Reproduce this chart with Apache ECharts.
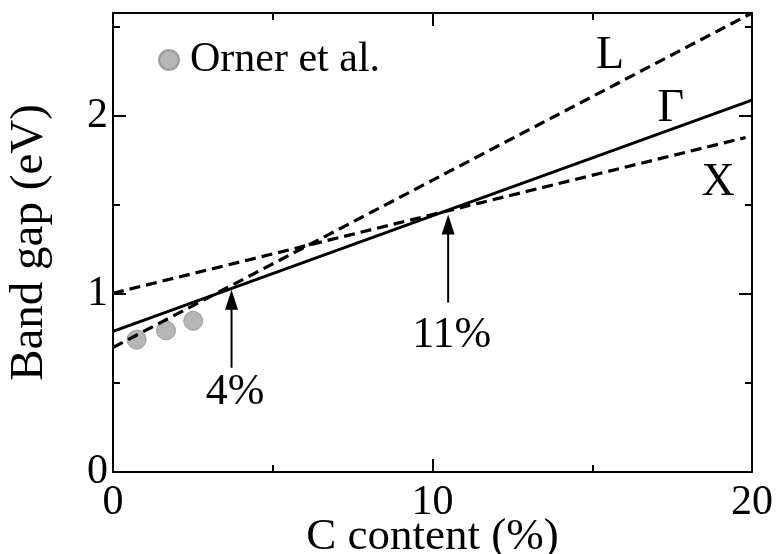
<!DOCTYPE html>
<html>
<head>
<meta charset="utf-8">
<script src="https://cdn.jsdelivr.net/npm/echarts@6/dist/echarts.min.js"></script>
<style>html,body{margin:0;padding:0;background:#fff}#c{width:776px;height:554px}</style>
</head>
<body>
<div id="c"></div>
<script>
// Data (x: C content %, y: band gap eV)
const gammaLine = [[0, 0.79], [20, 2.09]];
const lLine = [[0, 0.70], [20, 2.58]];
const xLine = [[0, 1.005], [19.8, 1.88]];
const ornerData = [[0.74, 0.744], [1.66, 0.796], [2.51, 0.85]];
const bandLabelNames = ['L', 'Γ', 'X'];
const bandLabelPos = [[15.56, 2.34], [17.46, 2.04], [18.94, 1.625]];
const arrowX = [3.71, 10.49];
const arrowFrom = [0.586, 0.952];
const arrowTo = [1.025, 1.448];
const arrowTextNames = ['4%', '11%'];
const arrowTextPos = [[3.82, 0.45], [10.6, 0.77]];
const xTicks = { min: 0, max: 20, major: 10, minor: 5 };
const yTicks = { min: 0, max: 2.58, major: 1, minor: 0.5 };

const FONT = 'Liberation Serif';
const black = '#000';

function xAx(pos, interval, len, showLabel, showLine) {
  return {
    type: 'value', position: pos, min: xTicks.min, max: xTicks.max, interval: interval,
    axisLine: { show: showLine, onZero: false, lineStyle: { color: black, width: 2 } },
    axisTick: { show: true, inside: true, length: len, lineStyle: { color: black, width: 2 } },
    axisLabel: { show: showLabel, margin: 10, fontFamily: FONT, fontSize: 42, color: black,
      showMaxLabel: true, showMinLabel: true },
    splitLine: { show: false },
    name: (showLabel ? 'C content (%)' : ''), nameLocation: 'middle', nameGap: 43,
    nameMoveOverlap: false,
    nameTextStyle: { fontFamily: FONT, fontSize: 45, color: black }
  };
}
function yAx(pos, interval, len, showLabel, showLine) {
  return {
    type: 'value', position: pos, min: yTicks.min, max: yTicks.max, interval: interval,
    axisLine: { show: showLine, onZero: false, lineStyle: { color: black, width: 2 } },
    axisTick: { show: true, inside: true, length: len, lineStyle: { color: black, width: 2 } },
    axisLabel: { show: showLabel, margin: 5, fontFamily: FONT, fontSize: 42, color: black,
      formatter: v => (Number.isInteger(v) ? String(v) : '') },
    splitLine: { show: false },
    name: (showLabel ? 'Band gap (eV)' : ''), nameLocation: 'middle', nameGap: 60, nameRotate: 90,
    nameMoveOverlap: false,
    nameTextStyle: { fontFamily: FONT, fontSize: 47, color: black }
  };
}

const textItems = bandLabelNames.map((n, i) => [bandLabelPos[i][0], bandLabelPos[i][1], n, 46])
  .concat(arrowTextNames.map((n, i) => [arrowTextPos[i][0], arrowTextPos[i][1], n, 44]));
const arrowItems = arrowX.map((x, i) => [x, arrowFrom[i], arrowTo[i]]);

const chart = echarts.init(document.getElementById('c'));
chart.setOption({
  animation: false,
  backgroundColor: '#fff',
  grid: { left: 113, right: 24, top: 13, bottom: 82, containLabel: false, outerBoundsMode: 'none' },
  xAxis: [
    xAx('bottom', xTicks.major, 13, true, true),
    xAx('bottom', xTicks.minor, 7, false, false),
    xAx('top', xTicks.major, 13, false, true),
    xAx('top', xTicks.minor, 7, false, false)
  ],
  yAxis: [
    yAx('left', yTicks.major, 13, true, true),
    yAx('left', yTicks.minor, 7, false, false),
    yAx('right', yTicks.major, 13, false, true),
    yAx('right', yTicks.minor, 7, false, false)
  ],
  legend: {
    data: [{ name: 'Orner et al.', icon: 'circle' }],
    left: 153, top: 34, itemWidth: 20, itemHeight: 20, itemGap: 0,
    textStyle: { fontFamily: FONT, fontSize: 42, color: black, padding: [0, 0, 0, 6] },
    selectedMode: false
  },
  series: [
    { type: 'line', name: 'Γ', data: gammaLine, showSymbol: false, symbol: 'none',
      lineStyle: { color: black, width: 3 } },
    { type: 'line', name: 'L', data: lLine, showSymbol: false, symbol: 'none',
      lineStyle: { color: black, width: 3.2, type: [11, 6] } },
    { type: 'line', name: 'X', data: xLine, showSymbol: false, symbol: 'none',
      lineStyle: { color: black, width: 3.2, type: [11, 6] } },
    { type: 'scatter', name: 'Orner et al.', data: ornerData, symbol: 'circle', symbolSize: 19,
      itemStyle: { color: '#a4a4a4', borderColor: '#8c8c8c', borderWidth: 1 } },
    { type: 'custom', name: 'arrows', data: arrowItems, z: 5,
      renderItem: function (params, api) {
        const x = api.value(0);
        const p0 = api.coord([x, api.value(1)]);
        const p1 = api.coord([x, api.value(2)]);
        const headL = 20, headW = 13;
        return { type: 'group', children: [
          { type: 'line', shape: { x1: p0[0], y1: p0[1], x2: p1[0], y2: p1[1] + headL - 2 },
            style: { stroke: black, lineWidth: 2 } },
          { type: 'polygon', shape: { points: [[p1[0], p1[1]], [p1[0] - headW / 2, p1[1] + headL], [p1[0] + headW / 2, p1[1] + headL]] },
            style: { fill: black } }
        ] };
      } },
    { type: 'custom', name: 'texts', data: textItems, z: 6,
      renderItem: function (params, api) {
        const p = api.coord([api.value(0), api.value(1)]);
        return { type: 'text', x: p[0], y: p[1],
          style: { text: textItems[params.dataIndex][2], fill: black,
            font: textItems[params.dataIndex][3] + 'px "' + FONT + '"',
            align: 'center', verticalAlign: 'middle' } };
      } }
  ]
});
</script>
</body>
</html>
